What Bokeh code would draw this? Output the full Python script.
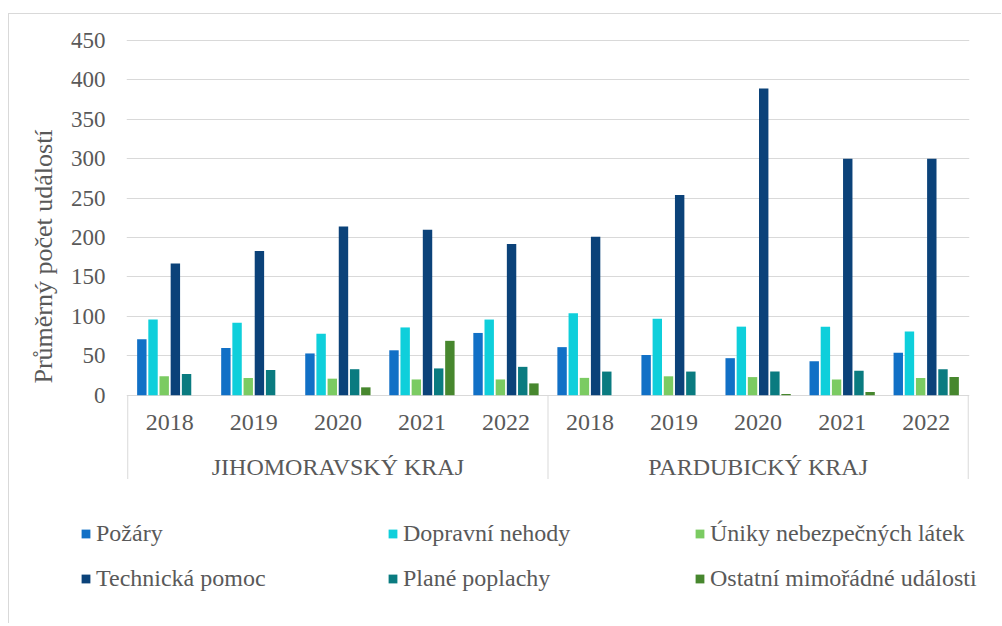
from bokeh.plotting import figure
from bokeh.models import (FactorRange, Range1d, FixedTicker, ColumnDataSource,
                          Legend, LegendItem)
from bokeh.transform import dodge
from bokeh.core.properties import value
from bokeh.embed import file_html
from bokeh.resources import INLINE

# ---------------- data ----------------
regions = ["JIHOMORAVSKÝ KRAJ", "PARDUBICKÝ KRAJ"]
years = ["2018", "2019", "2020", "2021", "2022"]

series_names = ["Požáry", "Dopravní nehody", "Úniky nebezpečných látek",
                "Technická pomoc", "Plané poplachy", "Ostatní mimořádné události"]

pozary    = [71, 60, 53, 57, 79, 61, 51, 47, 43, 54]
dopravni  = [96, 92, 78, 86, 96, 104, 97, 87, 87, 81]
uniky     = [24, 22, 21, 20, 20, 22, 24, 23, 20, 22]
technicka = [167, 183, 214, 210, 192, 201, 254, 389, 300, 300]
plane     = [27, 32, 33, 34, 36, 30, 30, 30, 31, 33]
ostatni   = [0, 0, 10, 69, 15, 0, 0, 1.5, 4, 23]

y_ticks = [0, 50, 100, 150, 200, 250, 300, 350, 400, 450]
y_title = "Průměrný počet událostí"

colors = ["#1170C6", "#0FCFDB", "#7BCB62", "#0B4279", "#0A7B80", "#47872E"]

FONT = "Liberation Serif"
TXT = "#595959"
GRID = "#D9D9D9"

# ---------------- main chart ----------------
factors = [(r, y) for r in regions for y in years]

src = ColumnDataSource(data=dict(
    x=factors,
    s0=pozary, s1=dopravni, s2=uniky, s3=technicka, s4=plane, s5=ostatni,
))

x_range = FactorRange(factors=factors, range_padding=0.015,
                      range_padding_units="absolute",
                      factor_padding=0, group_padding=0, subgroup_padding=0)

px_per_unit = 0.7882
y_bottom = -108.2
p = figure(x_range=x_range, y_range=Range1d(y_bottom, 460.2),
           width=993, height=466, output_backend="svg", toolbar_location=None,
           min_border_left=117, min_border_right=33, min_border_top=18,
           min_border_bottom=0)
p.styles = {"margin-top": "13px", "margin-left": "8px",
            "border-top": "1px solid #D9D9D9",
            "border-left": "1px solid #D9D9D9"}

p.outline_line_color = None
p.background_fill_color = "white"
p.border_fill_color = "white"

n = len(series_names)
step = 0.133
bar_w = 0.112
for i in range(n):
    off = (i - (n - 1) / 2) * step
    p.vbar(x=dodge("x", off, range=p.x_range), top=f"s{i}", bottom=0,
           width=bar_w, source=src, fill_color=colors[i], line_color=None)

# category separators (left edge, between regions, right edge)
sep_x = [(regions[0], years[0], -0.5), (regions[1], years[0], -0.5),
         (regions[1], years[-1], 0.5)]
p.segment(x0=sep_x, x1=sep_x, y0=[0] * 3, y1=[y_bottom] * 3,
          line_color=GRID, line_width=1)

# category labels
year_label_y = -(422 - 394.7) / px_per_unit
region_label_y = -(466.5 - 394.7) / px_per_unit
p.text(x=factors, y=[year_label_y] * len(factors), text=[f[1] for f in factors],
       text_align="center", text_baseline="middle",
       text_font=value(FONT), text_font_size=value("24px"), text_color=TXT)
p.text(x=regions, y=[region_label_y] * len(regions), text=regions,
       text_align="center", text_baseline="middle",
       text_font=value(FONT), text_font_size=value("24px"), text_color=TXT)

# axes
p.xaxis.visible = False
p.xgrid.visible = False
p.ygrid.ticker = FixedTicker(ticks=y_ticks)
p.ygrid.grid_line_color = GRID
p.ygrid.grid_line_width = 1

yax = p.yaxis[0]
yax.ticker = FixedTicker(ticks=y_ticks)
yax.axis_line_color = None
yax.major_tick_line_color = None
yax.minor_tick_line_color = None
yax.major_tick_out = 0
yax.major_tick_in = 0
yax.major_label_standoff = 21
yax.major_label_text_font = FONT
yax.major_label_text_font_size = "23px"
yax.major_label_text_color = TXT
yax.axis_label = y_title
yax.axis_label_text_font = FONT
yax.axis_label_text_font_size = "26px"
yax.axis_label_text_font_style = "normal"
yax.axis_label_text_color = TXT
yax.axis_label_standoff = 10

# ---------------- legend strip (separate root, below the chart) ----------------
lg = figure(width=984, height=144, output_backend="svg", toolbar_location=None,
            x_range=Range1d(0, 1), y_range=Range1d(0, 1),
            min_border_left=0, min_border_right=0, min_border_top=0,
            min_border_bottom=0)
lg.styles = {"margin-left": "8px", "border-left": "1px solid #D9D9D9"}
lg.xaxis.visible = False
lg.yaxis.visible = False
lg.grid.visible = False
lg.outline_line_color = None
lg.background_fill_color = "white"
lg.border_fill_color = "white"

# legend proxies: zero-size bars that only carry the series' colours
leg_renderers = []
for i in range(n):
    r = lg.vbar(x=[0], top=[0], bottom=[0], width=0, fill_color=colors[i],
                line_color=None)
    leg_renderers.append(r)

legend = Legend(
    items=[LegendItem(label=series_names[i], renderers=[leg_renderers[i]]) for i in range(n)],
    location=(71, 31), orientation="horizontal", ncols=3,
    label_text_font=FONT, label_text_font_size="24px", label_text_color=TXT,
    glyph_width=11, glyph_height=11, label_standoff=5, label_width=274,
    label_height=28, spacing=17, padding=0, margin=0,
    border_line_color=None, background_fill_alpha=0,
)
lg.add_layout(legend, "center")

open("out.html", "w").write(file_html([p, lg], INLINE))
